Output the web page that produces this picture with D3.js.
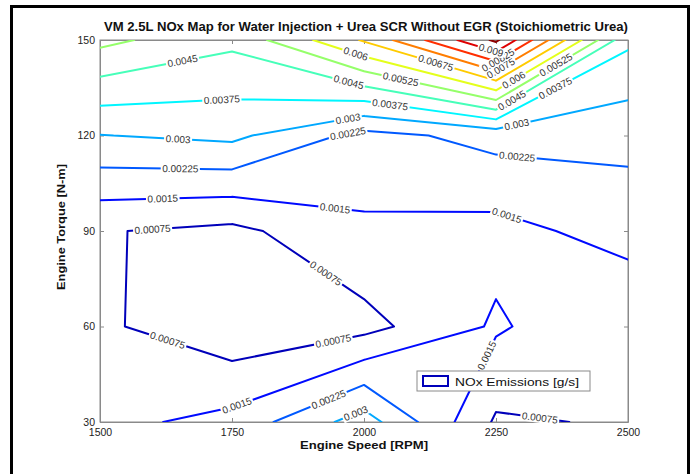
<!DOCTYPE html>
<html lang="en">
<head>
<meta charset="UTF-8">
<title>VM 2.5L NOx Map</title>
<script src="https://d3js.org/d3.v7.min.js"></script>
<style>
  body { margin: 0; background: #fff; }
  svg { font-family: "Liberation Sans", Arial, sans-serif; }
  .axis path, .axis line { stroke: #8a8a8a; }
  .axis text { fill: #222; font-size: 10.5px; }
  .clabel { font-size: 10px; fill: #333; }
</style>
</head>
<body>
<svg width="698" height="474"></svg>
<script>
// grid of the map
const speeds = [1500, 1750, 2000, 2250, 2500];
const torques = [30, 60, 90, 120, 150];

// NOx emissions [g/s], one list per torque row, values by speed
const nox30  = [0.00128, 0.00174, 0.00336, 0.00065, 0.00083];
const nox60  = [0.00088, 0.00019, 0.00050, 0.00160, 0.00080];
const nox90  = [0.00080, 0.00056, 0.00137, 0.00125, 0.00180];
const nox120 = [0.00298, 0.00318, 0.00201, 0.00250, 0.00247];
const nox150 = [0.00545, 0.00468, 0.00683, 0.00990, 0.00390];

// contour levels and their labels
const levels = [0.00075, 0.0015, 0.00225, 0.003, 0.00375, 0.0045, 0.00525,
                0.006, 0.00675, 0.0075, 0.00825, 0.009, 0.00975];
const levelText = ["0.00075", "0.0015", "0.00225", "0.003", "0.00375", "0.0045", "0.00525",
                   "0.006", "0.00675", "0.0075", "0.00825", "0.009", "0.00975"];

// where clabel put its labels: [level, speed, torque]
const labelSpots = [
  [0.0045, 1657, 142.8], [0.0045, 1970, 136.2], [0.0045, 2282, 130.5],
  [0.00375, 1731, 130.5], [0.00375, 2049, 129], [0.00375, 2364, 134.3],
  [0.003, 1648, 119.2], [0.003, 1970, 124.9], [0.003, 2290, 123],
  [0.00225, 1652, 108.5], [0.00225, 1970, 120.2], [0.00225, 2290, 113.2],
  [0.0015, 1619, 99.4], [0.0015, 1945, 96.9], [0.0015, 2267, 93.1],
  [0.00075, 1600, 89.7], [0.00075, 1932, 77.7], [0.00075, 1627, 55.1], [0.00075, 1943, 54.5],
  [0.0015, 1761, 34.4], [0.00225, 1932, 37.5], [0.003, 1985, 32.5],
  [0.0015, 2244, 50], [0.00075, 2333, 31.3],
  [0.00525, 2068, 136.5], [0.00525, 2367, 141.2],
  [0.006, 1983, 145], [0.006, 2286, 136.8],
  [0.00675, 2134, 141.8],
  [0.0075, 2262, 140.3], [0.00825, 2255, 143.3], [0.009, 2240, 146.4]
];

const svg = d3.select("svg");
const margin = {left: 100, right: 70, top: 40, bottom: 52};
const W = 698, H = 474;

const x = d3.scaleLinear().domain([1500, 2500]).range([margin.left, W - margin.right]);
const y = d3.scaleLinear().domain([30, 150]).range([H - margin.bottom, margin.top]);

// outer figure frame
svg.append("rect")
  .attr("x", 11.5).attr("y", 6.5).attr("width", 677).attr("height", 480)
  .attr("fill", "none").attr("stroke", "#000").attr("stroke-width", 3);

const grid = [nox30, nox60, nox90, nox120, nox150];
const zMin = d3.min(grid.flat()), zMax = d3.max(grid.flat());

// jet colormap
function jet(p) {
  const c = v => Math.max(0, Math.min(1, 1.5 - Math.abs(v)));
  return d3.rgb(255 * c(4 * p - 3), 255 * c(4 * p - 2), 255 * c(4 * p - 1)).formatHex();
}

// marching squares on the measured grid, saddles resolved by the cell mean
function contourSegments(L) {
  const segs = [];
  for (let j = 0; j < torques.length - 1; j++) {
    for (let i = 0; i < speeds.length - 1; i++) {
      const c = [[i, j], [i + 1, j], [i + 1, j + 1], [i, j + 1]];
      const v = c.map(([a, b]) => grid[b][a]);
      const hi = v.map(d => d >= L);
      const pts = [];
      for (let e = 0; e < 4; e++) {
        const k = (e + 1) % 4;
        if (hi[e] !== hi[k]) {
          const f = (L - v[e]) / (v[k] - v[e]);
          const [i0, j0] = c[e], [i1, j1] = c[k];
          pts[e] = [speeds[i0] + f * (speeds[i1] - speeds[i0]),
                    torques[j0] + f * (torques[j1] - torques[j0])];
        }
      }
      const es = [0, 1, 2, 3].filter(e => pts[e]);
      if (es.length === 2) {
        segs.push([pts[es[0]], pts[es[1]]]);
      } else if (es.length === 4) {
        const centreHi = d3.mean(v) >= L;
        for (let k = 0; k < 4; k++) {
          if (hi[k] !== centreHi) segs.push([pts[(k + 3) % 4], pts[k]]);
        }
      }
    }
  }
  return segs;
}

const contours = levels.map(L => ({level: L, segs: contourSegments(L)}));

// axes box
svg.append("rect")
  .attr("x", x(1500)).attr("y", y(150))
  .attr("width", x(2500) - x(1500)).attr("height", y(30) - y(150))
  .attr("fill", "#fff").attr("stroke", "#8a8a8a");

svg.append("g").attr("class", "axis")
  .attr("transform", `translate(0,${y(30)})`)
  .call(d3.axisBottom(x).tickValues(speeds).tickFormat(d3.format("d"))
    .tickSizeInner(-4).tickSizeOuter(0).tickPadding(7));
svg.append("g").attr("class", "axis")
  .attr("transform", `translate(0,${y(150)})`)
  .call(d3.axisTop(x).tickValues(speeds).tickSizeInner(-4).tickSizeOuter(0).tickFormat(""));
svg.append("g").attr("class", "axis")
  .attr("transform", `translate(${x(1500)},0)`)
  .call(d3.axisLeft(y).tickValues(torques).tickSizeInner(-4).tickSizeOuter(0).tickPadding(5));
svg.append("g").attr("class", "axis")
  .attr("transform", `translate(${x(2500)},0)`)
  .call(d3.axisRight(y).tickValues(torques).tickSizeInner(-4).tickSizeOuter(0).tickFormat(""));

svg.append("defs").append("clipPath").attr("id", "plot")
  .append("rect")
  .attr("x", x(1500)).attr("y", y(150))
  .attr("width", x(2500) - x(1500)).attr("height", y(30) - y(150));

// contour lines
svg.append("g").attr("clip-path", "url(#plot)")
  .selectAll("path")
  .data(contours)
  .join("path")
  .attr("fill", "none")
  .attr("stroke", d => jet((d.level - zMin) / (zMax - zMin)))
  .attr("stroke-width", 2)
  .attr("stroke-linecap", "round")
  .attr("stroke-linejoin", "round")
  .attr("d", d => d.segs.map(s => `M${x(s[0][0])},${y(s[0][1])}L${x(s[1][0])},${y(s[1][1])}`).join(""));

// contour labels, placed on the nearest piece of their line
const labelG = svg.append("g");
labelSpots.forEach(([L, s, t]) => {
  const c = contours.find(d => Math.abs(d.level - L) < 1e-9);
  const px = x(s), py = y(t);
  let best = null;
  c.segs.forEach(seg => {
    const ax = x(seg[0][0]), ay = y(seg[0][1]), bx = x(seg[1][0]), by = y(seg[1][1]);
    const dx = bx - ax, dy = by - ay;
    const len2 = dx * dx + dy * dy || 1;
    const u = Math.max(0, Math.min(1, ((px - ax) * dx + (py - ay) * dy) / len2));
    const qx = ax + u * dx, qy = ay + u * dy;
    const dist = Math.hypot(px - qx, py - qy);
    if (!best || dist < best.dist) best = {dist, qx, qy, ang: Math.atan2(dy, dx) * 180 / Math.PI};
  });
  if (!best) return;
  let ang = best.ang;
  if (ang > 90) ang -= 180;
  if (ang < -90) ang += 180;
  const g = labelG.append("g").attr("transform", `translate(${best.qx},${best.qy}) rotate(${ang})`);
  const bg = g.append("rect").attr("fill", "#fff");
  const txt = g.append("text").attr("class", "clabel")
    .attr("text-anchor", "middle").attr("dy", "0.35em")
    .text(levelText[levels.indexOf(c.level)]);
  const w = txt.node().getComputedTextLength();
  bg.attr("x", -w / 2 - 1.5).attr("y", -5).attr("width", w + 3).attr("height", 10);
});

// title and axis labels
svg.append("text")
  .attr("x", 366).attr("y", 31)
  .attr("text-anchor", "middle")
  .attr("font-size", "12px").attr("font-weight", "bold").attr("fill", "#111")
  .attr("textLength", 524).attr("lengthAdjust", "spacingAndGlyphs")
  .text("VM 2.5L NOx Map for Water Injection + Urea SCR Without EGR (Stoichiometric Urea)");

svg.append("text")
  .attr("x", x(2000)).attr("y", 449)
  .attr("text-anchor", "middle")
  .attr("font-size", "11.5px").attr("font-weight", "bold").attr("fill", "#111")
  .attr("textLength", 128).attr("lengthAdjust", "spacingAndGlyphs")
  .text("Engine Speed [RPM]");

svg.append("text")
  .attr("transform", `translate(65,${y(90) - 4}) rotate(-90)`)
  .attr("text-anchor", "middle")
  .attr("font-size", "11.5px").attr("font-weight", "bold").attr("fill", "#111")
  .attr("textLength", 126).attr("lengthAdjust", "spacingAndGlyphs")
  .text("Engine Torque [N-m]");

// legend
const leg = svg.append("g").attr("transform", "translate(417,371)");
leg.append("rect").attr("width", 173).attr("height", 20)
  .attr("fill", "#fff").attr("stroke", "#8a8a8a");
leg.append("rect").attr("x", 6).attr("y", 5).attr("width", 25).attr("height", 10)
  .attr("fill", "#fff").attr("stroke", jet((levels[0] - zMin) / (zMax - zMin))).attr("stroke-width", 2);
leg.append("text").attr("x", 38).attr("y", 14.5)
  .attr("font-size", "11.5px").attr("fill", "#111")
  .attr("textLength", 124).attr("lengthAdjust", "spacingAndGlyphs")
  .text("NOx Emissions [g/s]");
</script>
</body>
</html>
